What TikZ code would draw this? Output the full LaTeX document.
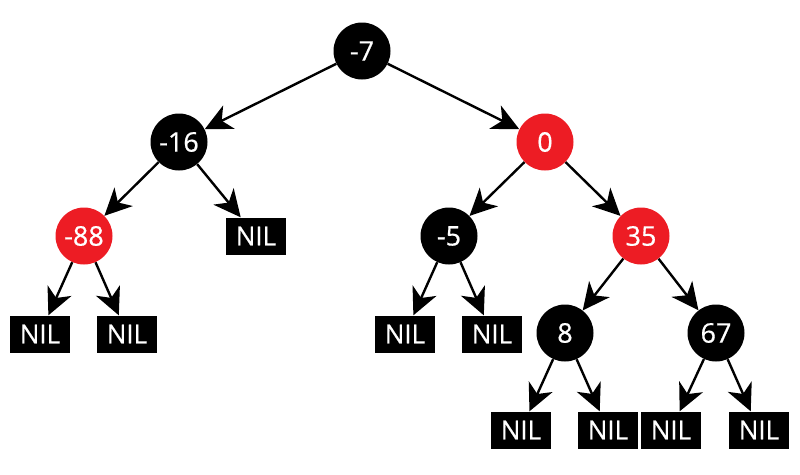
\documentclass[tikz,border=0pt]{standalone}
\usepackage{fontspec}
\setmainfont{Open Sans}[UprightFeatures={FakeBold=0.6}]
\usetikzlibrary{arrows.meta}
\definecolor{rbred}{RGB}{237,28,36}

\tikzset{
  blk/.style={circle,fill=black,text=white,minimum size=57pt,inner sep=0pt,font=\fontsize{27}{30}\selectfont},
  red/.style={blk,fill=rbred},
  nil/.style={rectangle,fill=black,text=white,minimum width=60pt,minimum height=37pt,inner sep=0pt,font=\fontsize{26}{30}\selectfont},
  link/.style={line width=2.4pt,-{Stealth[length=27pt,width=26pt,inset=8pt]}}
}

\begin{document}
\begin{tikzpicture}[x=1pt,y=-1pt]
\useasboundingbox (0,0) rectangle (800,474);
\node[blk] (m7) at (362,51) {-7};
\node[blk] (m16) at (179,142) {-16};
\node[red] (z0) at (545,142) {0};
\node[red] (m88) at (84,236) {-88};
\node[nil] (nilA) at (256,236) {NIL};
\node[blk] (m5) at (449,236) {-5};
\node[red] (p35) at (641,236) {35};
\node[nil] (nilB) at (40,334) {NIL};
\node[nil] (nilC) at (127,334) {NIL};
\node[nil] (nilD) at (405,334) {NIL};
\node[nil] (nilE) at (492,334) {NIL};
\node[blk] (p8) at (565,333) {8};
\node[blk] (p67) at (716,333) {67};
\node[nil] (nilF) at (521,430) {NIL};
\node[nil] (nilG) at (608,430) {NIL};
\node[nil] (nilH) at (671,430) {NIL};
\node[nil] (nilI) at (759,430) {NIL};
% edges parent -> child
\foreach \p/\c in {m7/m16,m7/z0,m16/m88,m16/nilA,z0/m5,z0/p35,m88/nilB,m88/nilC,
  m5/nilD,m5/nilE,p35/p8,p35/p67,p8/nilF,p8/nilG,p67/nilH,p67/nilI}
  \draw[link] (\p) -- (\c);
\end{tikzpicture}
\end{document}
